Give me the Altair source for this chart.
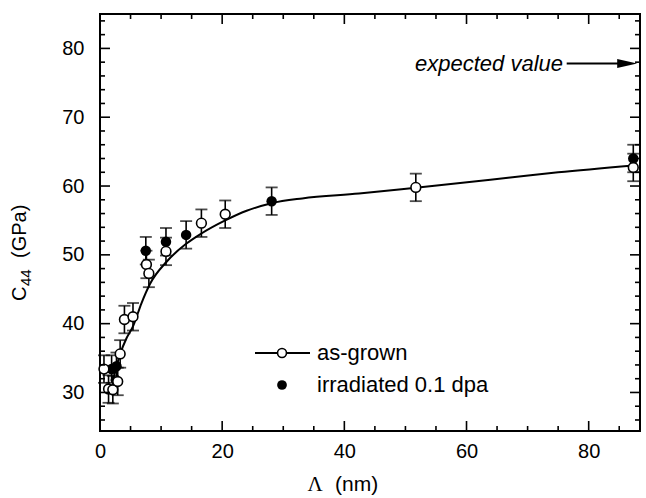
import altair as alt
import pandas as pd

FONT = "Liberation Sans"

# Measured shear modulus C44 versus bilayer period (nm)
as_grown_x = [0.65, 1.4, 2.1, 2.9, 3.3, 4.0, 5.4, 7.6, 8.0, 10.8, 16.6, 20.5, 51.7, 87.3]
as_grown_y = [33.4, 30.5, 30.4, 31.6, 35.6, 40.6, 41.0, 48.6, 47.3, 50.5, 54.6, 55.9, 59.8, 62.7]
as_grown_err = [2.0] * len(as_grown_x)

irradiated_x = [1.9, 2.7, 7.5, 10.8, 14.1, 28.1, 87.3]
irradiated_y = [33.4, 33.8, 50.6, 51.9, 52.9, 57.8, 64.0]
irradiated_err = [2.0] * len(irradiated_x)

# Fitted trend through the as-grown data
curve_x = [2.2, 3.3, 4.3, 5.4, 6.8, 8.2, 10.9, 14.1, 16.6, 20.5, 24.0, 28.1,
           33.1, 42.4, 51.7, 66.8, 75.0, 87.3]
curve_y = [32.0, 35.6, 37.8, 39.6, 43.0, 45.8, 49.0, 51.6, 53.1, 55.0, 56.4, 57.5,
           58.2, 58.9, 59.75, 61.2, 62.0, 63.0]

expected_value = 77.8
expected_text_x = 75.8
arrow_start_x = 76.4
arrow_head_x = 86.3

x_major = [0, 20, 40, 60, 80]
x_minor = [5, 10, 15, 25, 30, 35, 45, 50, 55, 65, 70, 75, 85]
y_major = [30, 40, 50, 60, 70, 80]
y_minor = [26, 28, 32, 34, 36, 38, 42, 44, 46, 48, 52, 54, 56, 58,
           62, 64, 66, 68, 72, 74, 76, 78, 82, 84]

W, H = 540, 417
x_scale = alt.Scale(domain=[0, 88.4], nice=False, zero=False)
y_scale = alt.Scale(domain=[24.4, 85], nice=False, zero=False)

x_axis = alt.Axis(values=x_major, title=None, ticks=False, domain=False, grid=False,
                  labelFont=FONT, labelFontSize=20, labelColor="black",
                  labelPadding=10, labelFlush=False)
y_axis = alt.Axis(values=y_major, title=None, ticks=False, domain=False, grid=False,
                  labelFont=FONT, labelFontSize=20, labelColor="black",
                  labelPadding=16)


def X(field):
    return alt.X(field, type="quantitative", scale=x_scale, axis=x_axis)


def Y(field):
    return alt.Y(field, type="quantitative", scale=y_scale, axis=y_axis)


pts_open = pd.DataFrame({"x": as_grown_x, "y": as_grown_y, "e": as_grown_err})
pts_full = pd.DataFrame({"x": irradiated_x, "y": irradiated_y, "e": irradiated_err})
both = pd.concat([pts_open, pts_full], ignore_index=True)
both["lo"] = both["y"] - both["e"]
both["hi"] = both["y"] + both["e"]
caps = pd.concat([both[["x"]].assign(c=both["lo"]), both[["x"]].assign(c=both["hi"])],
                 ignore_index=True)
curve = pd.DataFrame({"x": curve_x, "y": curve_y})

curve_layer = alt.Chart(curve).mark_line(color="black", strokeWidth=2,
                                         interpolate="monotone").encode(x=X("x"), y=Y("y"))

err_layer = alt.Chart(both).mark_rule(color="black", strokeWidth=1.6).encode(
    x=X("x"), y=Y("lo"), y2="hi")
cap_layer = alt.Chart(caps).mark_tick(color="black", orient="horizontal", size=12,
                                      thickness=1.8).encode(x=X("x"), y=Y("c"))

full_layer = alt.Chart(pts_full).mark_point(shape="circle", filled=True, color="black",
                                            size=110, opacity=1).encode(x=X("x"), y=Y("y"))
open_layer = alt.Chart(pts_open).mark_point(shape="circle", filled=True, fill="white",
                                            stroke="black", strokeWidth=1.6, size=95,
                                            opacity=1).encode(x=X("x"), y=Y("y"))

# Inward ticks on all four sides of the frame
def tick_layers(values, length, axis):
    df = pd.DataFrame({"v": values})
    base = alt.Chart(df).mark_rule(color="black", strokeWidth=1.6)
    if axis == "x":
        return [base.encode(x=X("v"), y=alt.value(H), y2=alt.value(H - length)),
                base.encode(x=X("v"), y=alt.value(0), y2=alt.value(length))]
    return [base.encode(y=Y("v"), x=alt.value(0), x2=alt.value(length)),
            base.encode(y=Y("v"), x=alt.value(W), x2=alt.value(W - length))]


ticks = (tick_layers(x_major, 10, "x") + tick_layers(x_minor, 5, "x")
         + tick_layers(y_major, 10, "y") + tick_layers(y_minor, 5, "y"))

# "expected value" annotation with arrow
exp_df = pd.DataFrame({"t": [expected_text_x], "a0": [arrow_start_x],
                       "a1": [arrow_head_x], "y": [expected_value]})
exp_text = alt.Chart(exp_df).mark_text(text="expected value", align="right",
                                       baseline="middle", font=FONT, fontSize=22,
                                       fontStyle="italic", color="black").encode(
    x=X("t"), y=Y("y"))
exp_line = alt.Chart(exp_df).mark_rule(color="black", strokeWidth=2).encode(
    x=X("a0"), x2="a1", y=Y("y"))
exp_head = alt.Chart(exp_df).mark_point(shape="M-1,-0.45L1,0L-1,0.45Z", filled=True,
                                        color="black", size=400, opacity=1).encode(
    x=X("a1"), y=Y("y"))

# Legend inside the plot area
one = pd.DataFrame({"k": [0]})
leg_line = alt.Chart(one).mark_rule(color="black", strokeWidth=2).encode(
    x=alt.value(155), x2=alt.value(210), y=alt.value(339))
leg_open = alt.Chart(one).mark_point(shape="circle", filled=True, fill="white",
                                     stroke="black", strokeWidth=1.6, size=80,
                                     opacity=1).encode(x=alt.value(182), y=alt.value(339))
leg_full = alt.Chart(one).mark_point(shape="circle", filled=True, color="black",
                                     size=95, opacity=1).encode(x=alt.value(182),
                                                                y=alt.value(371))
leg_t1 = alt.Chart(one).mark_text(text="as-grown", align="left", baseline="middle",
                                  font=FONT, fontSize=22, color="black").encode(
    x=alt.value(217), y=alt.value(339))
leg_t2 = alt.Chart(one).mark_text(text="irradiated 0.1 dpa", align="left",
                                  baseline="middle", font=FONT, fontSize=22,
                                  color="black").encode(x=alt.value(217), y=alt.value(371))

# Axis titles
yt_c = alt.Chart(one).mark_text(text="C", angle=270, align="left", baseline="alphabetic",
                                font=FONT, fontSize=20, color="black").encode(
    x=alt.value(-74), y=alt.value(287))
yt_sub = alt.Chart(one).mark_text(text="44", angle=270, align="left",
                                  baseline="alphabetic", font=FONT, fontSize=15,
                                  color="black").encode(x=alt.value(-69), y=alt.value(272))
yt_unit = alt.Chart(one).mark_text(text="(GPa)", angle=270, align="left",
                                   baseline="alphabetic", font=FONT, fontSize=20,
                                   color="black").encode(x=alt.value(-74), y=alt.value(244))
xt_sym = alt.Chart(one).mark_text(text="Λ", align="center", baseline="alphabetic",
                                  font="Liberation Serif", fontSize=21,
                                  color="black").encode(x=alt.value(215), y=alt.value(477))
xt_unit = alt.Chart(one).mark_text(text="(nm)", align="left", baseline="alphabetic",
                                   font=FONT, fontSize=21, color="black").encode(
    x=alt.value(235), y=alt.value(477))

chart = alt.layer(
    curve_layer, err_layer, cap_layer, full_layer, open_layer,
    *ticks, exp_text, exp_line, exp_head,
    leg_line, leg_open, leg_full, leg_t1, leg_t2,
    yt_c, yt_sub, yt_unit, xt_sym, xt_unit,
).properties(
    width=W, height=H,
    padding={"left": 100, "top": 14, "right": 6, "bottom": 67},
    autosize=alt.AutoSizeParams(type="none"),
    background="white",
).configure_view(stroke="black", strokeWidth=2)

chart.save("out.html", embed_options={"renderer": "svg", "actions": False})
